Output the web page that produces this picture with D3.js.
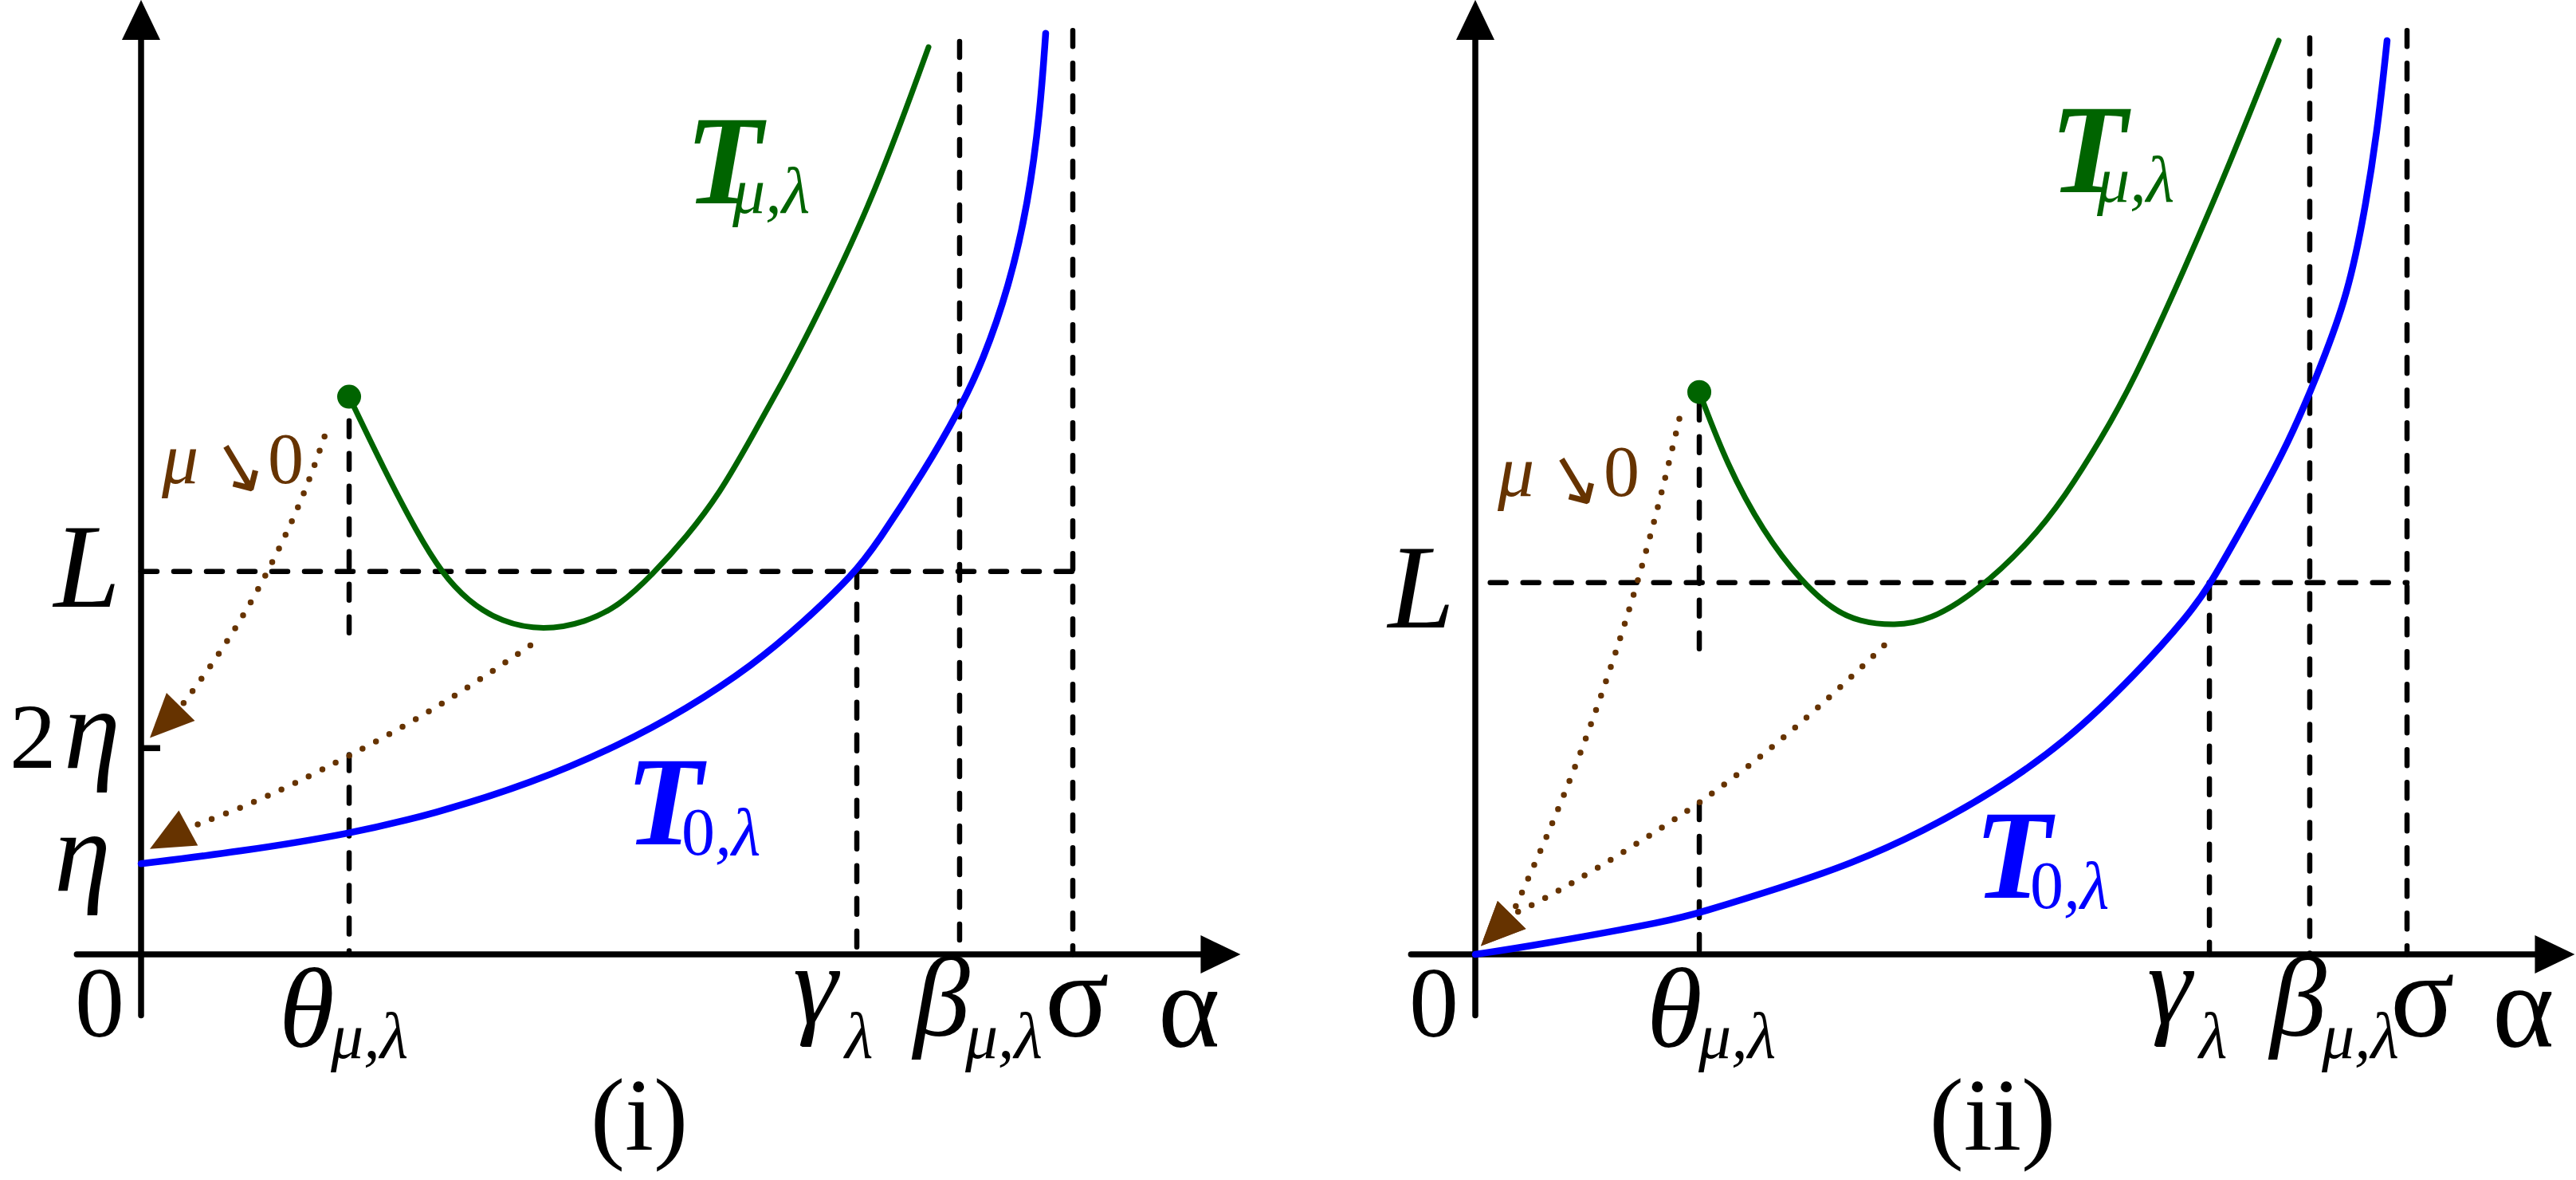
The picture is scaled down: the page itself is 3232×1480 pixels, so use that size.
<!DOCTYPE html>
<html>
<head>
<meta charset="utf-8">
<script src="https://cdn.jsdelivr.net/npm/d3@7"></script>
<style>
  body { margin: 0; background: #fff; }
  svg { display: block; }
</style>
</head>
<body>
<svg id="chart"></svg>
<script>
// alpha is measured in units of sigma (sigma = 1), T in schematic units (0 on the alpha axis)
var tickNames = ["θ", "γ", "β", "σ"];
var tickSubs  = ["μ,λ", "λ", "μ,λ", ""];
var ticksI  = [0.2233, 0.7682, 0.8785, 1.0];
var ticksII = [0.2404, 0.7879, 0.8956, 1.0];

var levelL    = [41.4, 40.2];    // L in panel (i), (ii)
var level2Eta = 22.3;            // 2η tick, panel (i)
var dotY      = [60.3, 60.8];    // start point of T_{μ,λ}
var vTopI     = [98.7, 99.9];    // tops of the β and σ dashed lines
var vTopII    = [99.1, 99.9];
var thetaSegI  = [57.7, 33.8, 21.6, 0];   // two dashed pieces under θ
var thetaSegII = [59.5, 32.2, 16.3, 0];

// T_{μ,λ}
var greenI = [[0.2233, 60.3], [0.2609, 52.4], [0.2968, 45.5], [0.3225, 41.3], [0.3507, 38.2],
  [0.3867, 35.9], [0.4320, 35.0], [0.4773, 35.9], [0.5133, 37.7], [0.5492, 41.1],
  [0.5851, 45.1], [0.6210, 49.8], [0.6570, 56.2], [0.6895, 62.1], [0.7134, 66.6],
  [0.7827, 80.8], [0.8452, 98.1]];
var greenII = [[0.2404, 60.8], [0.2703, 52.9], [0.3088, 45.7], [0.3507, 40.2], [0.3849, 37.2],
  [0.4115, 36.0], [0.4500, 35.5], [0.4876, 36.1], [0.5372, 39.1], [0.5945, 44.5],
  [0.6330, 49.5], [0.6715, 55.7], [0.7057, 61.8], [0.7605, 73.9], [0.8118, 86.0],
  [0.8623, 98.8]];

// T_{0,λ}
var blueI = [[0, 9.8], [0.1052, 11.1], [0.2233, 13.0], [0.3148, 15.2], [0.4192, 18.5],
  [0.5133, 22.6], [0.5851, 26.5], [0.6570, 31.3], [0.7109, 35.9], [0.7648, 41.1],
  [0.7896, 44.4], [0.8409, 52.3], [0.8785, 58.9], [0.9033, 64.1], [0.9316, 72.2],
  [0.9521, 81.2], [0.9649, 91.0], [0.9709, 99.6]];
var blueII = [[0, 0], [0.0633, 0.95], [0.2130, 3.7], [0.2404, 4.5], [0.3276, 7.2],
  [0.4038, 9.8], [0.4808, 13.3], [0.5569, 17.6], [0.6330, 22.9], [0.7092, 30.3],
  [0.7665, 36.8], [0.7879, 39.9], [0.8118, 44.1], [0.8691, 54.4], [0.9033, 62.5],
  [0.9341, 70.6], [0.9521, 78.8], [0.9683, 89.0], [0.9786, 98.8]];

// μ -> 0 arrows (last two points: head base, head tip)
var arrowsI = [
  [[0.1969, 56.0], [0.1764, 50.0], [0.1438, 42.8], [0.1053, 35.7], [0.0625, 29.4], [0.0428, 26.8], [0.0094, 23.4]],
  [[0.4178, 33.4], [0.3639, 29.7], [0.2945, 25.3], [0.2243, 21.5], [0.1635, 18.4], [0.1070, 15.8], [0.0514, 13.7], [0.0094, 11.4]]
];
var arrowsII = [
  [[0.2190, 57.9], [0.2002, 49.9], [0.1745, 40.2], [0.1454, 30.9], [0.1129, 21.6], [0.0761, 12.5], [0.0394, 4.3], [0.0060, 0.9]],
  [[0.4388, 33.4], [0.4038, 30.0], [0.3550, 25.5], [0.3045, 21.2], [0.2404, 16.3], [0.1848, 12.7], [0.1292, 9.2], [0.0727, 5.9], [0.0394, 4.3], [0.0060, 0.9]]
];

var W = 3232, H = 1480;
var GREEN = "#006400", BLUE = "#0000ff", BROWN = "#663300";
var SERIF = "Liberation Serif, Times New Roman, serif";

var svg = d3.select("#chart").attr("width", W).attr("height", H);

var y = d3.scaleLinear().domain([0, 100]).range([1197, 37]);

var panels = [
  { x0: 177, ticks: ticksI, L: levelL[0], dot: dotY[0], green: greenI, blue: blueI, arrows: arrowsI,
    thetaSeg: thetaSegI, vTop: vTopI, lStart: 0, tickDx: [-88, -80, -58, -35],
    tMu: [860, 255], tZero: [785, 1059], mu: [203, 606], Lx: 151, Ly: 761, tag: "(i)", tagX: 802 },
  { x0: 1851, ticks: ticksII, L: levelL[1], dot: dotY[1], green: greenII, blue: blueII, arrows: arrowsII,
    thetaSeg: thetaSegII, vTop: vTopII, lStart: 0.016, tickDx: [-66, -78, -50, -21],
    tMu: [2572, 241], tZero: [2477, 1126], mu: [1879, 622], Lx: 1825, Ly: 787, tag: "(ii)", tagX: 2500 }
];

// one text element, parts = [string, x, y, size, {it, b, font, rotate}]
function put(g, parts, fill, anchor) {
  var t = g.append("text")
    .style("font-family", SERIF)
    .attr("fill", fill || "#000")
    .attr("text-anchor", anchor || "start");
  parts.forEach(function(p) {
    var o = p[4] || {};
    var s = t.append("tspan")
      .attr("x", p[1]).attr("y", p[2])
      .attr("font-size", p[3])
      .attr("font-style", o.it ? "italic" : "normal")
      .attr("font-weight", o.b ? "bold" : "normal")
      .text(p[0]);
    if (o.font) s.style("font-family", o.font);
    if (o.rotate) s.attr("rotate", o.rotate);
  });
  return t;
}

// filled triangle pointing from "from" to "tip" (pixel coords)
function head(g, from, tip, len, w, color) {
  var dx = tip[0] - from[0], dy = tip[1] - from[1];
  var d = Math.sqrt(dx * dx + dy * dy);
  var ux = dx / d, uy = dy / d;
  var bx = tip[0] - ux * len, by = tip[1] - uy * len;
  var pts = [tip, [bx - uy * w / 2, by + ux * w / 2], [bx + uy * w / 2, by - ux * w / 2]];
  g.append("path").attr("d", "M" + pts.join("L") + "Z").attr("fill", color);
}

panels.forEach(function(p) {
  var x = d3.scaleLinear().domain([0, 1]).range([p.x0, p.x0 + 1169]);
  var g = svg.append("g");
  var line = d3.line().x(function(d) { return x(d[0]); }).y(function(d) { return y(d[1]); });
  var smooth = d3.line().x(function(d) { return x(d[0]); }).y(function(d) { return y(d[1]); })
    .curve(d3.curveBasis);

  function dashed(pts) {
    g.append("path").attr("d", line(pts))
      .attr("fill", "none").attr("stroke", "#000").attr("stroke-width", 6.5)
      .attr("stroke-linecap", "round").attr("stroke-dasharray", "20 21");
  }

  // guide lines
  var th = p.ticks[0], ga = p.ticks[1], be = p.ticks[2], si = p.ticks[3];
  dashed([[p.lStart, p.L], [si, p.L]]);
  dashed([[th, p.thetaSeg[0]], [th, p.thetaSeg[1]]]);
  dashed([[th, p.thetaSeg[2]], [th, p.thetaSeg[3]]]);
  dashed([[ga, p.L], [ga, 0]]);
  dashed([[be, p.vTop[0]], [be, 0]]);
  dashed([[si, p.vTop[1]], [si, 0]]);

  // axes
  var ax = g.append("g").attr("stroke", "#000").attr("stroke-width", 7.5).attr("stroke-linecap", "round");
  ax.append("path").attr("d", line([[-0.069, 0], [1.14, 0]]));
  ax.append("path").attr("d", line([[0, -6.6], [0, 99]]));
  head(g, [x(1.0), y(0)], [x(1.18), y(0)], 50, 48, "#000");
  head(g, [x(0), y(90)], [x(0), y(103.2)], 50, 48, "#000");
  if (p.x0 === 177) {
    ax.append("path").attr("d", "M" + x(0) + "," + y(level2Eta) + "h24").attr("stroke-linecap", "butt");
  }

  // curves
  g.append("path").attr("d", smooth(p.blue))
    .attr("fill", "none").attr("stroke", BLUE).attr("stroke-width", 8.5).attr("stroke-linecap", "round");
  g.append("path").attr("d", smooth(p.green))
    .attr("fill", "none").attr("stroke", GREEN).attr("stroke-width", 7).attr("stroke-linecap", "round");
  g.append("circle").attr("cx", x(th)).attr("cy", y(p.dot)).attr("r", 15).attr("fill", GREEN);

  // μ -> 0 dotted arrows
  p.arrows.forEach(function(a) {
    var n = a.length;
    g.append("path").attr("d", smooth(a.slice(0, n - 1)))
      .attr("fill", "none").attr("stroke", BROWN).attr("stroke-width", 7.5)
      .attr("stroke-linecap", "round").attr("stroke-dasharray", "0 19");
    head(g, [x(a[n - 2][0]), y(a[n - 2][1])], [x(a[n - 1][0]), y(a[n - 1][1])], 55, 50, BROWN);
  });

  // alpha-axis labels
  p.ticks.forEach(function(v, i) {
    var sx = x(v) + p.tickDx[i];
    if (i === 3) {
      put(g, [[tickNames[i], sx, 1300, 150]]);
    } else {
      var by = i === 0 ? 1313 : (i === 1 ? 1283 : 1299);
      put(g, [[tickNames[i], sx, by, 142, { it: true }], [tickSubs[i], sx + 65, 1327, 82, { it: true }]]);
    }
  });
  put(g, [["0", x(0) - 52, 1300, 124]], "#000", "middle");
  put(g, [["α", x(0) + 1276, 1313, 148]]);
  put(g, [[p.tag, p.tagX, 1442, 130]], "#000", "middle");

  // T-axis labels
  put(g, [["L", p.Lx, p.Ly, 150, { it: true }]], "#000", "end");
  if (p.x0 === 177) {
    put(g, [["2", 12, 963, 117], ["η", 80, 963, 143, { it: true }]]);
    put(g, [["η", 68, 1117, 143, { it: true }]]);
  }

  // curve names
  put(g, [["T", p.tMu[0], p.tMu[1], 158, { it: true, b: true }],
          ["μ,λ", p.tMu[0] + 59, p.tMu[1] + 12, 82, { it: true }]], GREEN);
  put(g, [["T", p.tZero[0], p.tZero[1], 158, { it: true, b: true }],
          ["0", p.tZero[0] + 70, p.tZero[1] + 13, 84],
          [",λ", p.tZero[0] + 112, p.tZero[1] + 13, 84, { it: true }]], BLUE);

  // μ ↘ 0
  put(g, [["μ", p.mu[0], p.mu[1], 92, { it: true }],
          ["↘", p.mu[0] + 54, p.mu[1] - 2, 88, { font: "DejaVu Sans", rotate: 14 }],
          ["0", p.mu[0] + 133, p.mu[1], 90]], BROWN);
});
</script>
</body>
</html>
